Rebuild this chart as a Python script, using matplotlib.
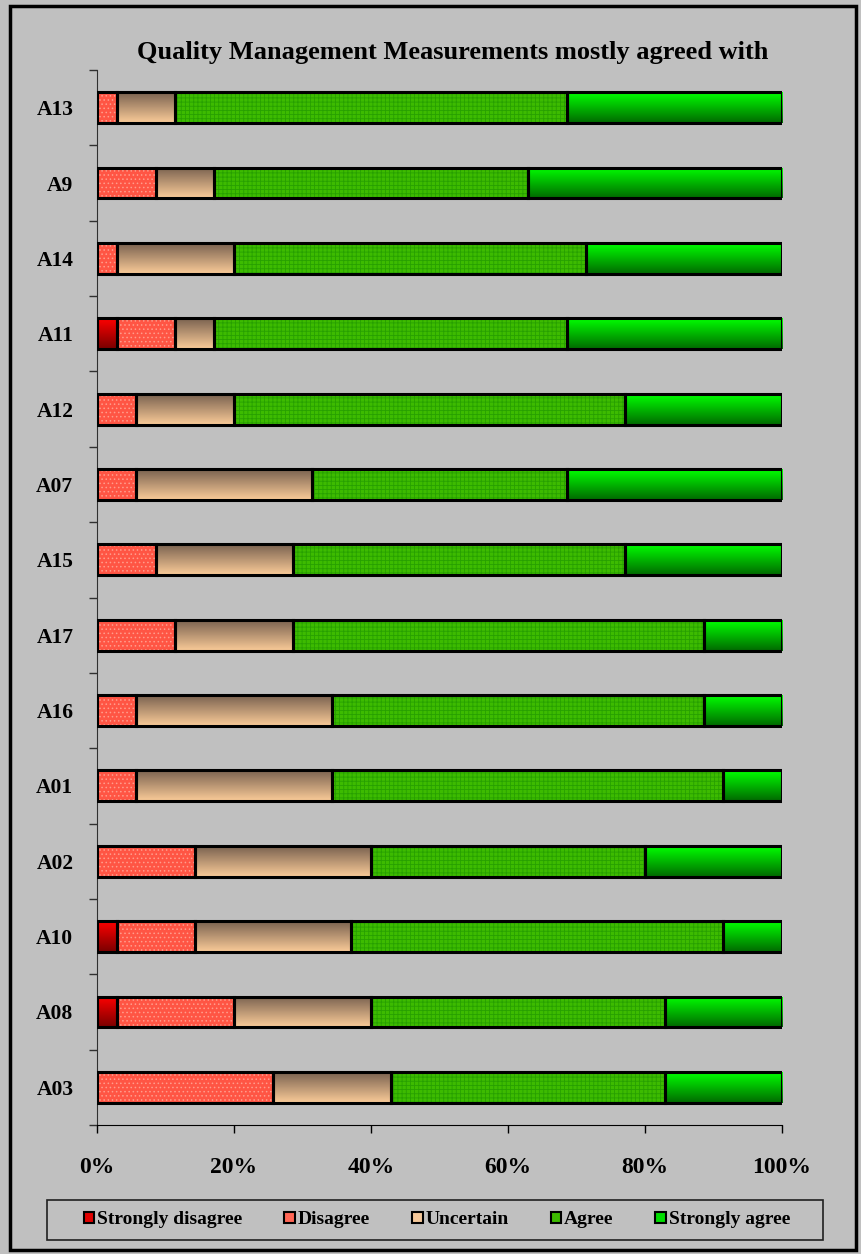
import matplotlib.pyplot as plt
import numpy as np
from matplotlib.colors import LinearSegmentedColormap
from matplotlib.patches import Patch, Rectangle
from matplotlib.ticker import FixedLocator

# items, top to bottom, and number of responses per answer (35 respondents)
items = ['A13', 'A9', 'A14', 'A11', 'A12', 'A07', 'A15', 'A17', 'A16', 'A01', 'A02', 'A10', 'A08', 'A03']
strongly_disagree = [0, 0, 0, 1, 0, 0, 0, 0, 0, 0, 0, 1, 1, 0]
disagree = [1, 3, 1, 3, 2, 2, 3, 4, 2, 2, 5, 4, 6, 9]
uncertain = [3, 3, 6, 2, 5, 9, 7, 6, 10, 10, 9, 8, 7, 6]
agree = [20, 16, 18, 18, 20, 13, 17, 21, 19, 20, 14, 19, 15, 14]
strongly_agree = [11, 13, 10, 11, 8, 11, 8, 4, 4, 3, 7, 3, 6, 6]

series_names = ['Strongly disagree', 'Disagree', 'Uncertain', 'Agree', 'Strongly agree']
ticks_pct = [0, 20, 40, 60, 80, 100]

BG = '#C0C0C0'
FONT = 'Liberation Serif'


def gradient_bars(ax, y, width, left, height, top_color, bottom_color):
    cmap = LinearSegmentedColormap.from_list('g', [top_color, bottom_color])
    grad = np.linspace(0, 1, 64).reshape(-1, 1)
    bars = ax.barh(y, width, left=left, height=height, facecolor='none', linewidth=0, zorder=2)
    for r in bars:
        if r.get_width() <= 0:
            continue
        x0, y0 = r.get_x(), r.get_y()
        im = ax.imshow(grad, cmap=cmap, aspect='auto', zorder=2,
                       extent=[x0, x0 + r.get_width(), y0, y0 + r.get_height()])
        im.set_clip_path(r)


def pattern_bars(ax, y, width, left, height, face, dots, hatch):
    ax.barh(y, width, left=left, height=height, facecolor=face, edgecolor=dots,
            hatch=hatch, linewidth=0, zorder=2)


def main():
    plt.rcParams['hatch.linewidth'] = 0.6
    data = np.array([strongly_disagree, disagree, uncertain, agree, strongly_agree], dtype=float)
    pct = data / data.sum(axis=0) * 100

    fig = plt.figure(figsize=(8.61, 12.54), dpi=100, facecolor=BG)
    ax = fig.add_axes([97 / 861, 1 - 1125 / 1254, 685 / 861, 1055 / 1254])
    ax.set_facecolor(BG)

    n = len(items)
    y = np.arange(n)[::-1]
    h = 0.41
    left = np.zeros(n)

    gradient_bars(ax, y, pct[0], left, h, '#FF0000', '#7A0000')
    left = left + pct[0]
    pattern_bars(ax, y, pct[1], left, h, '#FF5544', '#FF9C8C', '....')
    left = left + pct[1]
    gradient_bars(ax, y, pct[2], left, h, '#7A6250', '#FACB98')
    left = left + pct[2]
    pattern_bars(ax, y, pct[3], left, h, '#3DBB00', '#27A000', '++++')
    left = left + pct[3]
    gradient_bars(ax, y, pct[4], left, h, '#00FF00', '#006A00')

    # black outlines on top of every segment
    left = np.zeros(n)
    for row in pct:
        mask = row > 0
        ax.barh(y[mask], row[mask], left=left[mask], height=h, fill=False,
                edgecolor='black', linewidth=2.2, zorder=4)
        left = left + row

    ax.set_xlim(0, 100)
    ax.set_ylim(-0.5, n - 0.5)

    for s in ['top', 'right']:
        ax.spines[s].set_visible(False)
    ax.spines['left'].set_color('#303030')
    ax.spines['bottom'].set_color('black')

    ax.set_xticks(ticks_pct)
    ax.set_xticklabels([f'{t}%' for t in ticks_pct], fontfamily=FONT,
                       fontweight='bold', fontsize=17)
    ax.tick_params(axis='x', length=6, width=1, pad=17)

    ax.set_yticks(y)
    ax.set_yticklabels(items, fontfamily=FONT, fontweight='bold', fontsize=15.5)
    ax.tick_params(axis='y', which='major', length=0, pad=17)
    ax.yaxis.set_minor_locator(FixedLocator(np.arange(-0.5, n, 1.0)))
    ax.tick_params(axis='y', which='minor', length=6, width=1, color='#303030')

    fig.text(453 / 861, 1 - 52 / 1254, 'Quality Management Measurements mostly agreed with',
             ha='center', va='center', fontfamily=FONT, fontweight='bold', fontsize=19)

    # legend box
    fig.patches.append(Rectangle((47 / 861, 1 - 1240 / 1254), 776 / 861, 40 / 1254,
                                 transform=fig.transFigure, fill=False,
                                 edgecolor='#202020', linewidth=1.2))
    handles = [
        Patch(facecolor='#E00000', edgecolor='black', linewidth=1.5),
        Patch(facecolor='#FF6655', edgecolor='black', linewidth=1.5),
        Patch(facecolor='#F5C89A', edgecolor='black', linewidth=1.5),
        Patch(facecolor='#3DBB00', edgecolor='black', linewidth=1.5),
        Patch(facecolor='#00DD00', edgecolor='black', linewidth=1.5),
    ]
    fig.legend(handles, series_names, loc='center', bbox_to_anchor=(437 / 861, 1 - 1220 / 1254),
               ncol=5, frameon=False, handlelength=0.55, handleheight=0.55,
               handletextpad=0.15, columnspacing=2.15,
               prop={'family': FONT, 'weight': 'bold', 'size': 14})

    # outer border
    fig.patches.append(Rectangle((10 / 861, 4 / 1254), 846 / 861, 1244 / 1254,
                                 transform=fig.transFigure, fill=False,
                                 edgecolor='black', linewidth=2.5))

    fig.savefig('out.png', dpi=100, facecolor=BG)


if __name__ == '__main__':
    main()
